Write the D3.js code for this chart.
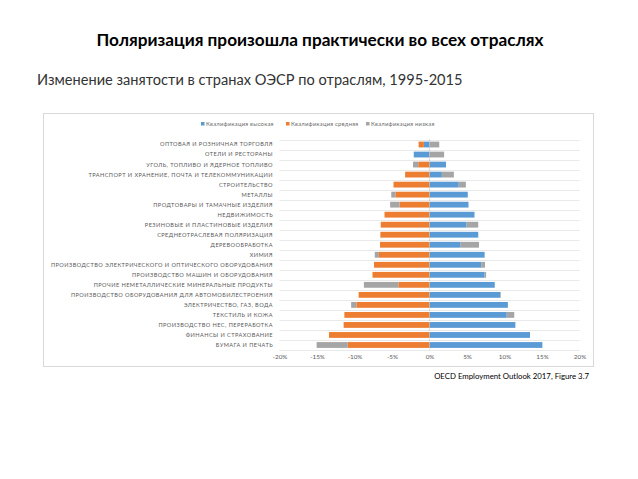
<!DOCTYPE html>
<html>
<head>
<meta charset="utf-8">
<script src="https://cdn.jsdelivr.net/npm/d3@7"></script>
<style>
    body { margin: 0; background: #fff; }
    svg { display: block; font-family: Lato, "Open Sans", sans-serif; }
</style>
</head>
<body>
<svg id="chart" width="638" height="479"></svg>
<script>
// Chart data (top to bottom), percent change 1995-2015
const categories = [
    "ОПТОВАЯ И РОЗНИЧНАЯ ТОРГОВЛЯ",
    "ОТЕЛИ И РЕСТОРАНЫ",
    "УГОЛЬ, ТОПЛИВО И ЯДЕРНОЕ ТОПЛИВО",
    "ТРАНСПОРТ И ХРАНЕНИЕ, ПОЧТА И ТЕЛЕКОММУНИКАЦИИ",
    "СТРОИТЕЛЬСТВО",
    "МЕТАЛЛЫ",
    "ПРОДТОВАРЫ И ТАМАЧНЫЕ ИЗДЕЛИЯ",
    "НЕДВИЖИМОСТЬ",
    "РЕЗИНОВЫЕ И ПЛАСТИНОВЫЕ ИЗДЕЛИЯ",
    "СРЕДНЕОТРАСЛЕВАЯ ПОЛЯРИЗАЦИЯ",
    "ДЕРЕВООБРАБОТКА",
    "ХИМИЯ",
    "ПРОИЗВОДСТВО ЭЛЕКТРИЧЕСКОГО И ОПТИЧЕСКОГО ОБОРУДОВАНИЯ",
    "ПРОИЗВОДСТВО МАШИН И ОБОРУДОВАНИЯ",
    "ПРОЧИЕ НЕМЕТАЛЛИЧЕСКИЕ МИНЕРАЛЬНЫЕ ПРОДУКТЫ",
    "ПРОИЗВОДСТВО ОБОРУДОВАНИЯ ДЛЯ АВТОМОБИЛЕСТРОЕНИЯ",
    "ЭЛЕКТРИЧЕСТВО, ГАЗ, ВОДА",
    "ТЕКСТИЛЬ И КОЖА",
    "ПРОИЗВОДСТВО НЕС, ПЕРЕРАБОТКА",
    "ФИНАНСЫ И СТРАХОВАНИЕ",
    "БУМАГА И ПЕЧАТЬ"
];
const highSkill = [-0.75, -2.1, 2.2, 1.65, 3.9, 5.1, 5.2, 6.0, 4.95, 6.5, 4.15, 7.35, 6.9, 7.35, 8.7, 9.4, 10.45, 10.3, 11.45, 13.4, 15.05];
const midSkill = [-0.7, 0, -1.5, -3.25, -4.8, -4.55, -4.0, -6.0, -6.5, -6.55, -6.6, -6.75, -7.4, -7.6, -4.15, -9.45, -9.75, -11.35, -11.45, -13.4, -10.9];
const lowSkill = [1.3, 1.95, -0.7, 1.6, 0.95, -0.55, -1.25, 0, 1.55, 0, 2.45, -0.55, 0.5, 0.2, -4.6, 0.1, -0.7, 1.0, 0, 0, -4.15];
const seriesNames = ["Квалификация высокая", "Квалификация средняя", "Квалификация низкая"];
const xTicks = [-20, -15, -10, -5, 0, 5, 10, 15, 20];

const colors = ["#5B9BD5", "#ED7D31", "#A5A5A5"];
const keys = ["high", "mid", "low"];

const rows = categories.map((c, i) => ({
    category: c, high: highSkill[i], mid: midSkill[i], low: lowSkill[i]
}));

const svg = d3.select("#chart");

// Slide titles
svg.append("text")
    .attr("x", 320).attr("y", 46)
    .attr("text-anchor", "middle")
    .style("font-size", "17.2px")
    .style("font-weight", "bold")
    .style("fill", "#000")
    .text("Поляризация произошла практически во всех отраслях");

svg.append("text")
    .attr("x", 37).attr("y", 85)
    .style("font-size", "14.6px")
    .style("fill", "#333")
    .text("Изменение занятости в странах ОЭСР по отраслям, 1995-2015");

// Chart frame
svg.append("rect")
    .attr("x", 43.5).attr("y", 113.5)
    .attr("width", 550).attr("height", 253)
    .attr("fill", "#fff")
    .attr("stroke", "#D9D9D9")
    .attr("stroke-width", 1);

// Scales
const x = d3.scaleLinear().domain([-20, 20]).range([279.5, 579.5]);
const y = d3.scaleBand().domain(categories).range([139.5, 350]).paddingInner(0.42).paddingOuter(0.21);

// Horizontal grid lines (between categories)
const step = y.step();
const gridY = d3.range(categories.length + 1).map(i => 139.5 + i * step);
svg.append("g").selectAll("line")
    .data(gridY)
    .enter()
    .append("line")
    .attr("x1", x(-20)).attr("x2", x(20))
    .attr("y1", d => Math.round(d) + 0.5).attr("y2", d => Math.round(d) + 0.5)
    .attr("stroke", "#E3E3E3")
    .attr("stroke-width", 0.8);

// Stacked bars (negatives stack leftwards, positives rightwards)
const stack = d3.stack().keys(keys).offset(d3.stackOffsetDiverging);
const stacked = stack(rows);

svg.append("g").selectAll("g")
    .data(stacked)
    .enter()
    .append("g")
    .attr("fill", (d, i) => colors[i])
    .selectAll("rect")
    .data(d => d)
    .enter()
    .append("rect")
    .attr("x", d => x(Math.min(d[0], d[1])))
    .attr("width", d => Math.abs(x(d[1]) - x(d[0])))
    .attr("y", d => y(d.data.category))
    .attr("height", y.bandwidth());

// Zero axis line
svg.append("line")
    .attr("x1", x(0)).attr("x2", x(0))
    .attr("y1", 139.5).attr("y2", 350)
    .attr("stroke", "#BFBFBF")
    .attr("stroke-width", 0.8)
    .attr("stroke-dasharray", "1.5,1");

// Category labels
svg.append("g").selectAll("text")
    .data(categories)
    .enter()
    .append("text")
    .attr("x", 273)
    .attr("y", d => y(d) + y.bandwidth() / 2)
    .attr("dy", "0.35em")
    .attr("text-anchor", "end")
    .style("font-size", "5.6px")
    .style("letter-spacing", "0.45px")
    .style("fill", "#595959")
    .text(d => d);

// Value axis tick labels
const xAxis = d3.axisBottom(x)
    .tickValues(xTicks)
    .tickSize(0)
    .tickPadding(0)
    .tickFormat(d => d + "%");

const axisG = svg.append("g")
    .attr("transform", "translate(0, 355)")
    .call(xAxis);
axisG.select(".domain").remove();
axisG.selectAll("text")
    .style("font-family", "Lato, sans-serif")
    .style("font-size", "6.3px")
    .style("fill", "#595959");

// Legend
const legendX = [201, 286, 366];
const legend = svg.append("g").selectAll("g")
    .data(seriesNames)
    .enter()
    .append("g")
    .attr("transform", (d, i) => `translate(${legendX[i]}, 124)`);

legend.append("rect")
    .attr("x", 0).attr("y", -2)
    .attr("width", 3.5).attr("height", 3.5)
    .attr("fill", (d, i) => colors[i]);

legend.append("text")
    .attr("x", 5).attr("y", 0)
    .attr("dy", "0.35em")
    .style("font-size", "5.8px")
    .style("letter-spacing", "0.25px")
    .style("fill", "#6b6b6b")
    .text(d => d);

// Source note
svg.append("text")
    .attr("x", 589).attr("y", 379)
    .attr("text-anchor", "end")
    .style("font-size", "7.8px")
    .style("fill", "#000")
    .text("OECD Employment Outlook 2017, Figure 3.7");
</script>
</body>
</html>
